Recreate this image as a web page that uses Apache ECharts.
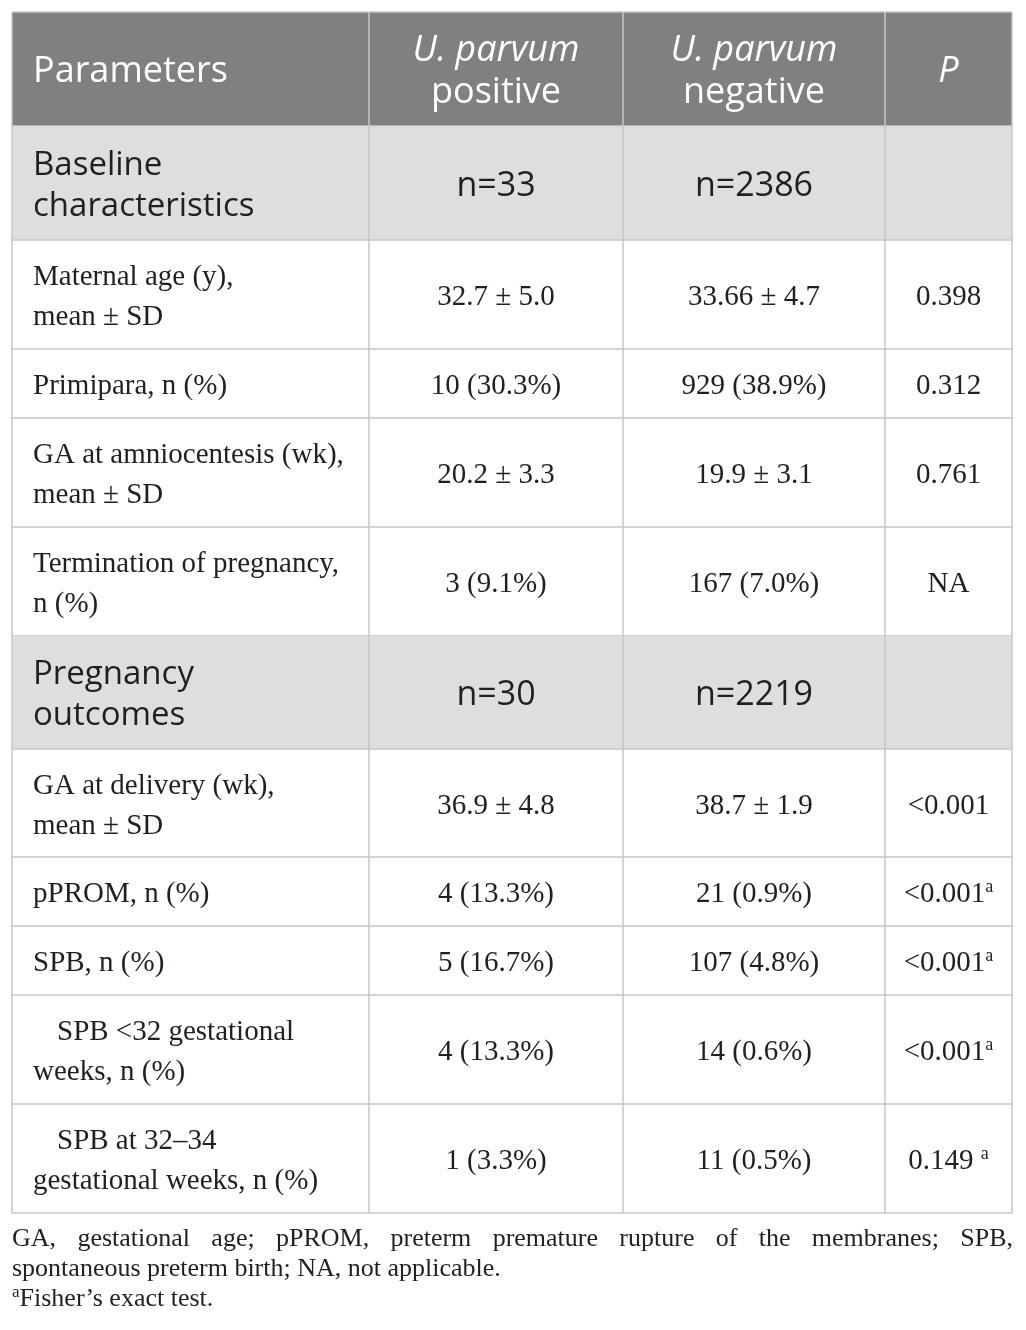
<!DOCTYPE html>
<html><head><meta charset="utf-8">
<script src="https://cdn.jsdelivr.net/npm/echarts@6/dist/echarts.min.js"></script>
<style>html,body{margin:0;padding:0;background:#fff}#c{width:1026px;height:1330px}</style>
</head><body><div id="c"></div>
<script>
// ---------- data ----------
const columnHeaders = ['Parameters', '{i|U. parvum}\n{n|positive}', '{i|U. parvum}\n{n|negative}', '{i|P}'];
const rowKinds = ['section','data','data','data','data','section','data','data','data','data','data'];
const rowLabels = [
  'Baseline\ncharacteristics',
  'Maternal age (y),\nmean \u00b1 SD',
  'Primipara, n (%)',
  'GA at amniocentesis (wk),\nmean \u00b1 SD',
  'Termination of pregnancy,\nn (%)',
  'Pregnancy\noutcomes',
  'GA at delivery (wk),\nmean \u00b1 SD',
  'pPROM, n (%)',
  'SPB, n (%)',
  'SPB <32 gestational\nweeks, n (%)',
  'SPB at 32\u201334\ngestational weeks, n (%)'
];
const rowIndented = [false,false,false,false,false,false,false,false,false,true,true];
const positiveValues = ['n=33','32.7 \u00b1 5.0','10 (30.3%)','20.2 \u00b1 3.3','3 (9.1%)','n=30','36.9 \u00b1 4.8','4 (13.3%)','5 (16.7%)','4 (13.3%)','1 (3.3%)'];
const negativeValues = ['n=2386','33.66 \u00b1 4.7','929 (38.9%)','19.9 \u00b1 3.1','167 (7.0%)','n=2219','38.7 \u00b1 1.9','21 (0.9%)','107 (4.8%)','14 (0.6%)','11 (0.5%)'];
const pValues = ['','0.398','0.312','0.761','NA','','<0.001','<0.001','<0.001','<0.001','0.149 '];
const pNotes = ['','','','','','','','a','a','a','a'];
const abbrevNoteLines = [
  'GA, gestational age; pPROM, preterm premature rupture of the membranes; SPB,',
  'spontaneous preterm birth; NA, not applicable.'
];
const noteMark = 'a';
const fisherNote = 'Fisher\u2019s exact test.';

// ---------- layout / style ----------
const W = 1026, H = 1330;
const colEdges = [12, 369, 623, 885, 1012];
const rowEdges = [12, 126, 240, 349, 418, 527, 636, 749, 857, 926, 995, 1104, 1213];
const HEADER_BG = '#808080', SECTION_BG = '#dedede', LINE = '#c6c6c6', INK = '#231f20';
const SANS = '"Open Sans", sans-serif', SERIF = '"Liberation Serif", serif';
const SANS_SIZE = 36, SECTION_SIZE = 33, SERIF_SIZE = 29, LABEL_X = 33, INDENT = 24, DY = 3;

const rows = ['header'].concat(rowKinds);

function lineSeg(x1, y1, x2, y2) {
  return {type: 'line', shape: {x1, y1, x2, y2}, style: {stroke: LINE, lineWidth: 1.5}};
}

function renderRow(params, api) {
  const r = api.value(0);
  const kind = rows[r];
  const y0 = api.coord([0, rowEdges[r]])[1];
  const y1 = api.coord([0, rowEdges[r + 1]])[1];
  const xs = colEdges.map(x => api.coord([x, 0])[0]);
  const cy = (y0 + y1) / 2 + DY;
  const ch = [];
  if (kind !== 'data') {
    ch.push({type: 'rect', shape: {x: xs[0], y: y0, width: xs[4] - xs[0], height: y1 - y0},
      style: {fill: kind === 'header' ? HEADER_BG : SECTION_BG}});
  }
  if (r === 0) ch.push(lineSeg(xs[0], y0, xs[4], y0));
  ch.push(lineSeg(xs[0], y1, xs[4], y1));
  xs.forEach(x => ch.push(lineSeg(x, y0, x, y1)));
  const lx = api.coord([LABEL_X, 0])[0];
  const centers = [1, 2, 3].map(c => (xs[c] + xs[c + 1]) / 2);

  if (kind === 'header') {
    ch.push({type: 'text', style: {text: columnHeaders[0], x: lx, y: cy, align: 'left', verticalAlign: 'middle',
      fill: '#fff', fontFamily: SANS, fontSize: SANS_SIZE}});
    const rich = {
      i: {fontFamily: SANS, fontSize: SANS_SIZE, fontStyle: 'italic', fill: '#fff', lineHeight: 42},
      n: {fontFamily: SANS, fontSize: SANS_SIZE, fill: '#fff', lineHeight: 42}
    };
    for (let c = 1; c <= 3; c++) {
      ch.push({type: 'text', style: {text: columnHeaders[c], x: centers[c - 1], y: cy, align: 'center',
        verticalAlign: 'middle', rich: rich, fill: '#fff', fontFamily: SANS, fontSize: SANS_SIZE}});
    }
    return {type: 'group', children: ch};
  }

  const d = r - 1;
  const isSec = kind === 'section';
  const fam = isSec ? SANS : SERIF;
  const size = isSec ? SECTION_SIZE : SERIF_SIZE;
  const lh = isSec ? 41 : 40;
  const lines = rowLabels[d].split('\n');
  lines.forEach((t, k) => {
    const x = lx + (k === 0 && rowIndented[d] ? INDENT : 0);
    ch.push({type: 'text', style: {text: t, x: x, y: cy + (k - (lines.length - 1) / 2) * lh,
      align: 'left', verticalAlign: 'middle', fill: INK, fontFamily: fam, fontSize: size}});
  });
  [positiveValues[d], negativeValues[d]].forEach((t, k) => {
    ch.push({type: 'text', style: {text: t, x: centers[k], y: cy, align: 'center', verticalAlign: 'middle',
      fill: INK, fontFamily: fam, fontSize: isSec ? 34 : size}});
  });
  if (pValues[d]) {
    const txt = pNotes[d] ? '{v|' + pValues[d] + '}{s|' + pNotes[d] + '}' : '{v|' + pValues[d] + '}';
    ch.push({type: 'text', style: {text: txt, x: centers[2], y: cy, align: 'center', verticalAlign: 'middle',
      rich: {
        v: {fontFamily: SERIF, fontSize: SERIF_SIZE, fill: INK, lineHeight: 32},
        s: {fontFamily: SERIF, fontSize: 18, fill: INK, verticalAlign: 'top', lineHeight: 18}
      }}});
  }
  return {type: 'group', children: ch};
}

// ---------- footnotes (first line justified to table width) ----------
const NOTE_FONT_SIZE = 26;
const ctx = document.createElement('canvas').getContext('2d');
ctx.font = NOTE_FONT_SIZE + 'px "Liberation Serif"';
const noteLeft = 12, noteRight = 1013;
const noteY = [1239, 1269, 1299];
const graphics = [];
abbrevNoteLines.forEach((line, li) => {
  const y = noteY[li];
  const lw = line.split(' ');
  if (li === 0) {
    const tot = lw.reduce((s, w) => s + ctx.measureText(w).width, 0);
    const gap = (noteRight - noteLeft - tot) / (lw.length - 1);
    let x = noteLeft;
    lw.forEach(w => {
      graphics.push({type: 'text', x: x, y: y, style: {text: w, fill: INK, fontFamily: SERIF,
        fontSize: NOTE_FONT_SIZE, verticalAlign: 'middle', align: 'left'}});
      x += ctx.measureText(w).width + gap;
    });
  } else {
    graphics.push({type: 'text', x: noteLeft, y: y, style: {text: line, fill: INK, fontFamily: SERIF,
      fontSize: NOTE_FONT_SIZE, verticalAlign: 'middle', align: 'left'}});
  }
});
graphics.push({type: 'text', x: noteLeft, y: noteY[2], style: {
  text: '{s|' + noteMark + '}{v|' + fisherNote + '}', verticalAlign: 'middle', align: 'left',
  rich: {
    v: {fontFamily: SERIF, fontSize: NOTE_FONT_SIZE, fill: INK, lineHeight: 30},
    s: {fontFamily: SERIF, fontSize: 17, fill: INK, verticalAlign: 'top', lineHeight: 17}
  }}});

const chart = echarts.init(document.getElementById('c'), null, {renderer: 'canvas'});
chart.setOption({
  animation: false,
  backgroundColor: '#fff',
  grid: {left: 0, right: 0, top: 0, bottom: 0},
  xAxis: {type: 'value', min: 0, max: W, show: false},
  yAxis: {type: 'value', min: 0, max: H, inverse: true, show: false},
  graphic: graphics,
  series: [{
    type: 'custom',
    coordinateSystem: 'cartesian2d',
    silent: true,
    clip: false,
    renderItem: renderRow,
    encode: {x: 0},
    data: rows.map((k, i) => [i])
  }]
});
</script></body></html>
